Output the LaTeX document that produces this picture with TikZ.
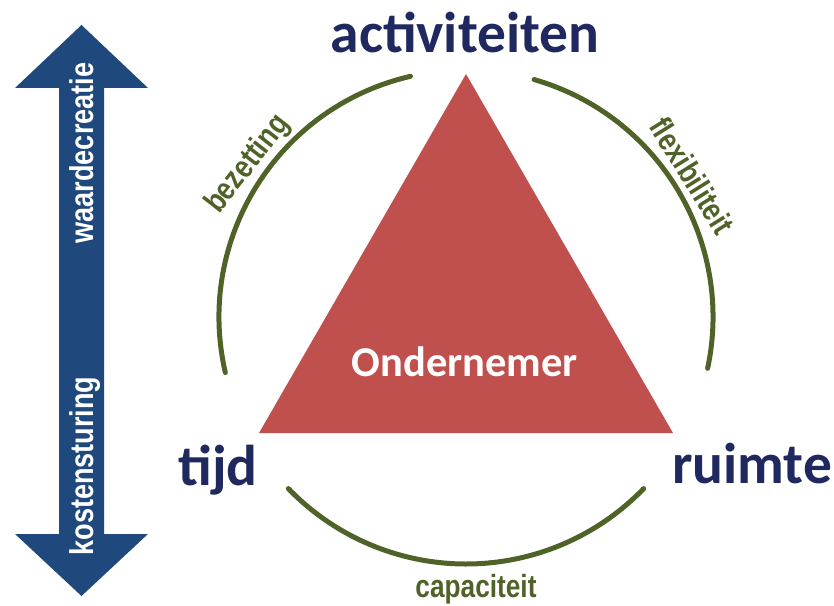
\documentclass[tikz,border=0pt]{standalone}
\usepackage{fontspec}
\setmainfont{Carlito}
\newfontfamily\narrowfont[FakeStretch=0.82]{Liberation Sans}
\definecolor{navy}{HTML}{1F285F}
\definecolor{arrowblue}{HTML}{1F497D}
\definecolor{trired}{HTML}{C0504D}
\definecolor{arcgreen}{HTML}{4F6228}
\tikzset{
  mainlabel/.style={text=navy, font=\fontsize{57.5}{60}\selectfont\bfseries, inner sep=0pt, anchor=base},
  arclabel/.style={text=arcgreen, font=\narrowfont\fontsize{32}{34}\selectfont\bfseries, inner sep=0pt},
  arrowlabel/.style={text=white, font=\narrowfont\fontsize{33}{35}\selectfont\bfseries, inner sep=0pt, anchor=base, rotate=90},
  arcline/.style={draw=arcgreen, line width=5pt, line cap=round},
}
\begin{document}
\begin{tikzpicture}[x=1pt,y=1pt]
\useasboundingbox (0,0) rectangle (834,605);
% double arrow
\fill[arrowblue] (81.5,580) -- (148,517) -- (104,517) -- (104,71) -- (148,71) -- (81.5,9)
  -- (15,71) -- (59,71) -- (59,517) -- (15,517) -- cycle;
\node[arrowlabel] (wc) at (93,452) {waardecreatie};
\node[arrowlabel] (ks) at (93,139) {kostensturing};
% triangle
\fill[trired] (466,531) -- (673,172) -- (259,172) -- cycle;
\node[text=white, font=\fontsize{42.5}{45}\selectfont\bfseries, inner sep=0pt, anchor=base] (ond) at (465,228) {Ondernemer};
% arcs
\coordinate (c) at (466,288);
\draw[arcline] ([shift={(103:247)}]c) arc (103:193:247);
\draw[arcline] ([shift={(74:247)}]c) arc (74:-12:247);
\draw[arcline] ([shift={(224:247)}]c) arc (224:316:247);
% arc labels
\node[arclabel, rotate=52] (bez) at ([shift={(145:266)}]c) {bezetting};
\node[arclabel, rotate=-58] (flex) at ([shift={(32:267)}]c) {flexibiliteit};
\node[arclabel, anchor=base] (cap) at (476,8) {capaciteit};
% main labels
\node[mainlabel] (act) at (465,552) {activiteiten};
\node[mainlabel] (tijd) at (218,120) {tijd};
\node[mainlabel] (ruim) at (752,122) {ruimte};
\end{tikzpicture}
\end{document}
